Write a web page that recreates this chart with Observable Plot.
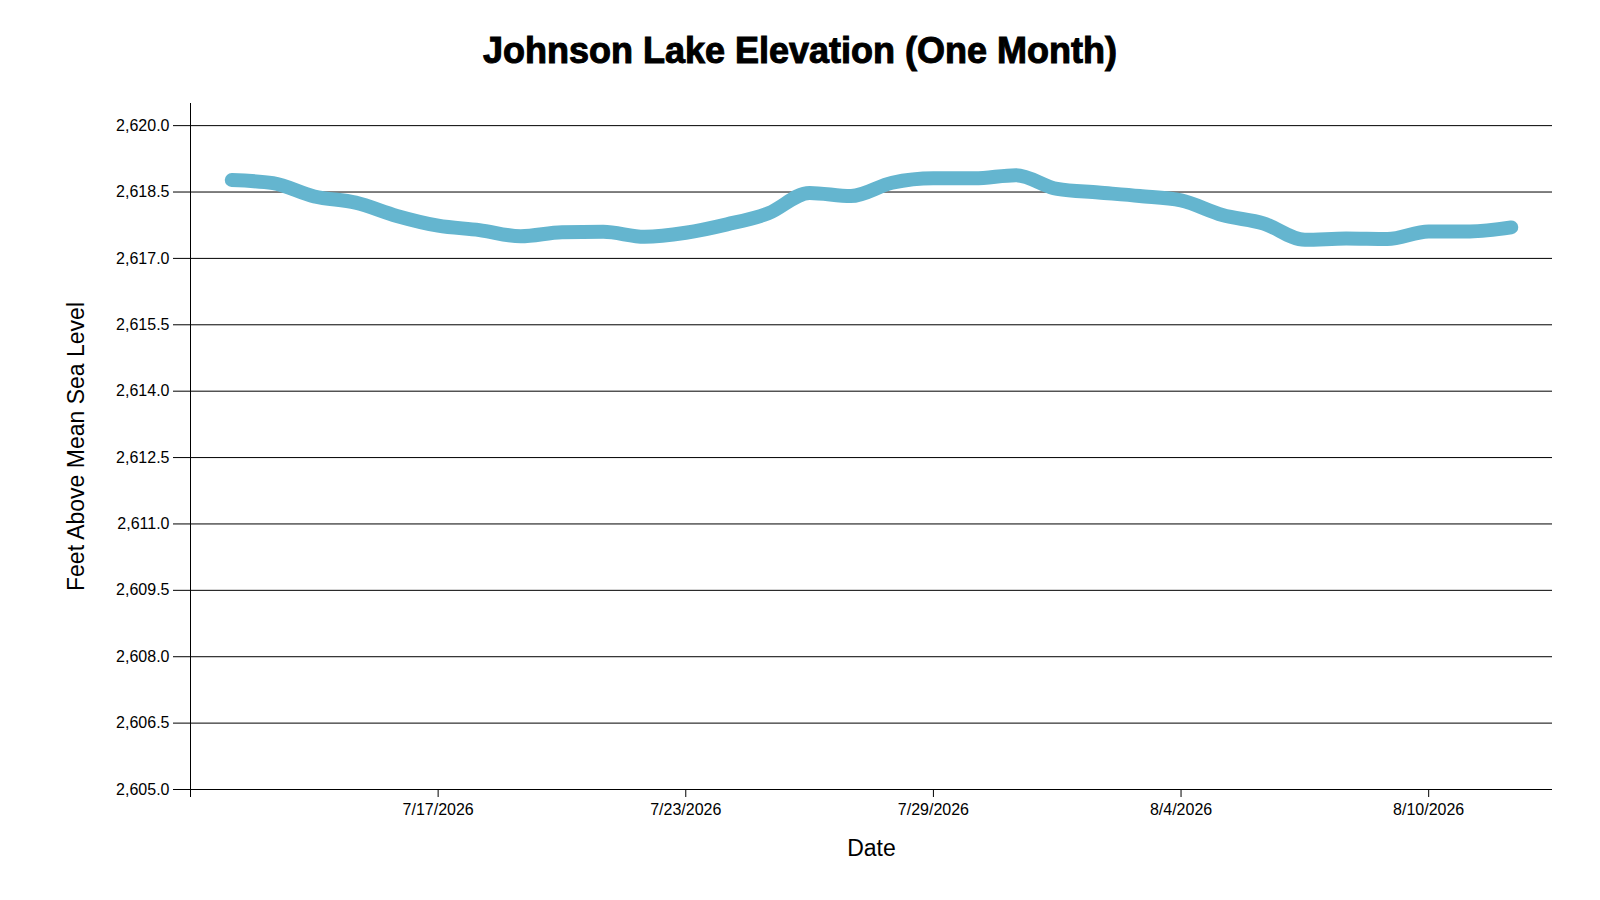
<!DOCTYPE html>
<html>
<head>
<meta charset="utf-8">
<script src="https://cdn.jsdelivr.net/npm/d3@7"></script>
<script src="https://cdn.jsdelivr.net/npm/@observablehq/plot@0.6"></script>
<style>
  body { margin: 0; background: #fff; font-family: "Liberation Sans", Arial, sans-serif; }
  #title { width: 1600px; height: 90px; box-sizing: border-box; padding-top: 31px; text-align: center;
           font-size: 36px; font-weight: bold; line-height: 40px; color: #000; -webkit-text-stroke: 1px #000; }
</style>
</head>
<body>
<div id="title">Johnson Lake Elevation (One Month)</div>
<div id="chart"></div>
<script>
const dates = [
  "2026-07-12","2026-07-13","2026-07-14","2026-07-15","2026-07-16","2026-07-17","2026-07-18","2026-07-19",
  "2026-07-20","2026-07-21","2026-07-22","2026-07-23","2026-07-24","2026-07-25","2026-07-26","2026-07-27",
  "2026-07-28","2026-07-29","2026-07-30","2026-07-31","2026-08-01","2026-08-02","2026-08-03","2026-08-04",
  "2026-08-05","2026-08-06","2026-08-07","2026-08-08","2026-08-09","2026-08-10","2026-08-11","2026-08-12"
];
const elevations = [
  2618.77, 2618.70, 2618.40, 2618.26, 2617.96, 2617.74, 2617.64, 2617.50,
  2617.59, 2617.60, 2617.49, 2617.58, 2617.77, 2618.02, 2618.48, 2618.41,
  2618.71, 2618.81, 2618.81, 2618.88, 2618.57, 2618.49, 2618.41, 2618.31,
  2617.98, 2617.79, 2617.42, 2617.45, 2617.44, 2617.61, 2617.61, 2617.70
];
const yTicks = [2605.0, 2606.5, 2608.0, 2609.5, 2611.0, 2612.5, 2614.0, 2615.5, 2617.0, 2618.5, 2620.0];
const yDomain = [2605.0, 2620.5];
const xTickDates = ["2026-07-11","2026-07-17","2026-07-23","2026-07-29","2026-08-04","2026-08-10"];
const xDomainDates = ["2026-07-11","2026-08-13"];
const yLabel = "Feet Above Mean Sea Level";
const xLabel = "Date";

const parse = d3.utcParse("%Y-%m-%d");
const data = dates.map((d, i) => ({date: parse(d), value: elevations[i]}));
const xDomain = xDomainDates.map(parse);
const xTicks = xTickDates.map(parse);
const fmtDate = d => (+d === +xDomain[0]) ? "" : `${d.getUTCMonth() + 1}/${d.getUTCDate()}/${d.getUTCFullYear()}`;

const chart = Plot.plot({
  width: 1600,
  height: 810,
  marginTop: 13,
  marginBottom: 111,
  marginLeft: 190,
  marginRight: 48,
  style: {fontFamily: '"Liberation Sans", Arial, sans-serif', fontSize: "16px", color: "#000", background: "#fff"},
  x: {type: "utc", domain: xDomain, ticks: xTicks, tickFormat: fmtDate, tickSize: 8, tickPadding: 6, label: null},
  y: {domain: yDomain, ticks: yTicks, tickFormat: d3.format(",.1f"), tickSize: 17, tickPadding: 4, label: null},
  marks: [
    Plot.ruleY(yTicks, {stroke: "#000", strokeWidth: 1}),
    Plot.ruleX([xDomain[0]], {stroke: "#000", strokeWidth: 1}),
    Plot.line(data, {x: "date", y: "value", stroke: "#64b5cf", strokeWidth: 14, strokeLinecap: "round", strokeLinejoin: "round", curve: "monotone-x"}),
    Plot.text([yLabel], {text: d => d, frameAnchor: "left", dx: -114, rotate: -90, textAnchor: "middle", lineAnchor: "middle", fontSize: 23, fill: "#000"}),
    Plot.text([xLabel], {text: d => d, frameAnchor: "bottom", dy: 59, textAnchor: "middle", lineAnchor: "middle", fontSize: 23, fill: "#000"})
  ]
});
document.getElementById("chart").appendChild(chart);
</script>
</body>
</html>
